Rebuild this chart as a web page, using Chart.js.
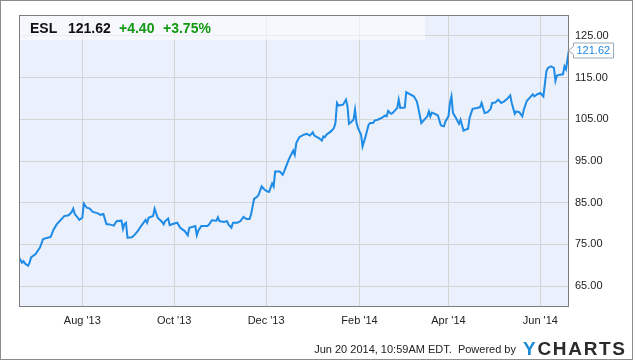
<!DOCTYPE html>
<html>
<head>
<meta charset="utf-8">
<title>ESL</title>
<script src="https://cdn.jsdelivr.net/npm/chart.js@4/dist/chart.umd.min.js"></script>
<style>
  html, body { margin: 0; padding: 0; background: #fff; }
  #wrap { position: relative; width: 635px; height: 362px; overflow: hidden;
          font-family: "Liberation Sans", Arial, sans-serif; }
  #chart { position: absolute; left: 0; top: 0; }
  #frame { position: absolute; left: 0; top: 0; width: 631px; height: 358px; border: 1px solid #8c8c8c; }
  .head { position: absolute; top: 20px; font-size: 14px; line-height: 16px; font-weight: bold; color: #111; white-space: nowrap; }
  .up { color: #119911; }
  #stamp { position: absolute; right: 119px; top: 342px; font-size: 11px; line-height: 14px; color: #222; white-space: nowrap; }
  #logo { position: absolute; left: 523px; top: 338px; font-size: 19px; line-height: 22px; font-weight: bold;
          letter-spacing: 1.7px; color: #2b2b2b; white-space: nowrap; }
  #logo b { color: #1b8bd6; }
</style>
</head>
<body>
<div id="wrap">
  <canvas id="chart" width="635" height="362"></canvas>
  <div id="frame"></div>
  <div class="head" style="left:30px">ESL</div>
  <div class="head" style="left:68px">121.62</div>
  <div class="head up" style="left:119px">+4.40</div>
  <div class="head up" style="left:163px">+3.75%</div>
  <div id="stamp">Jun 20 2014, 10:59AM EDT.&nbsp; Powered by</div>
  <div id="logo"><b>Y</b>CHARTS</div>
</div>
<script>
// Datos: dias desde el 20 jun 2013 y precio de cierre
const days = [0, 2, 3, 4, 6, 7, 8, 11, 14, 16, 19, 21, 23, 25, 27, 30, 33, 35, 36, 37,
  39, 40, 42, 43, 45, 47, 49, 52, 54, 56, 58, 60, 63, 64, 65, 68, 69, 70, 71, 72,
  75, 77, 79, 81, 84, 85, 86, 89, 90, 92, 95, 96, 97, 99, 100, 102, 105, 107, 110, 112,
  113, 117, 118, 119, 121, 125, 126, 128, 131, 132, 133, 136, 138, 139, 141, 142, 145, 147, 149, 151,
  153, 154, 156, 158, 159, 161, 163, 165, 166, 168, 169, 170, 172, 173, 175, 176, 179, 180, 181, 182,
  183, 184, 186, 189, 191, 193, 195, 196, 199, 201, 202, 203, 204, 207, 209, 210, 211, 212, 215, 217,
  218, 219, 221, 222, 223, 224, 225, 227, 228, 230, 232, 233, 235, 236, 238, 241, 243, 244, 245, 247,
  248, 250, 251, 252, 253, 256, 257, 259, 262, 264, 265, 267, 269, 271, 272, 273, 274, 276, 278, 280,
  282, 283, 285, 286, 287, 288, 290, 292, 293, 295, 297, 298, 299, 301, 304, 306, 307, 309, 311, 313,
  314, 316, 318, 320, 322, 324, 326, 327, 329, 330, 332, 334, 335, 337, 339, 341, 342, 344, 346, 348,
  350, 351, 353, 355, 356, 357, 359, 361, 362, 363, 365];
const prices = [71.9, 70.6, 71.0, 70.4, 69.9, 70.6, 71.9, 72.7, 74.3, 76.3, 76.6, 76.8, 78.6, 79.8, 80.6, 81.8, 82.0, 82.8, 83.6, 82.3,
  81.4, 80.9, 81.4, 84.8, 83.8, 83.6, 82.8, 82.5, 82.1, 82.3, 79.9, 79.8, 79.5, 80.2, 80.6, 80.7, 78.7, 79.9, 80.2, 76.6,
  76.7, 77.4, 78.3, 79.4, 80.9, 80.2, 81.4, 81.8, 83.6, 81.4, 80.4, 79.8, 80.6, 81.2, 79.6, 79.9, 80.2, 79.0, 78.2, 77.2,
  79.0, 79.4, 77.2, 78.3, 79.4, 79.4, 79.7, 80.8, 80.7, 81.5, 80.6, 80.4, 80.6, 79.8, 79.0, 80.2, 80.2, 80.6, 81.6, 81.1,
  81.1, 82.2, 85.9, 86.4, 86.9, 88.9, 88.1, 87.7, 87.6, 89.6, 88.9, 92.5, 92.5, 92.5, 91.7, 92.5, 95.3, 96.1, 96.8, 97.5,
  96.5, 99.3, 100.7, 101.3, 101.5, 101.1, 101.9, 101.1, 100.5, 99.9, 100.9, 100.7, 101.3, 102.1, 102.9, 104.1, 108.9, 108.3, 108.5, 109.7,
  108.1, 103.9, 104.5, 104.9, 107.3, 104.1, 102.9, 101.3, 98.5, 100.9, 103.7, 104.1, 104.1, 104.7, 104.9, 105.4, 105.9, 105.7, 107.0, 106.3,
  106.5, 107.3, 107.7, 109.7, 107.7, 107.8, 111.5, 111.1, 110.5, 109.3, 107.7, 104.1, 104.9, 105.7, 106.9, 105.7, 106.6, 106.3, 105.9, 103.5,
  103.3, 104.5, 105.7, 108.9, 110.5, 106.5, 105.3, 103.9, 104.9, 102.3, 102.6, 102.7, 105.3, 107.5, 107.7, 107.9, 108.9, 106.5, 106.7, 107.5,
  108.9, 109.0, 109.7, 108.9, 109.3, 109.9, 110.7, 108.9, 106.3, 106.9, 106.7, 105.7, 107.3, 109.4, 110.2, 111.0, 110.5, 111.0, 111.3, 110.5,
  116.5, 117.3, 117.7, 117.3, 114.2, 115.5, 115.7, 115.8, 117.7, 117.0, 121.62];

// Marcas de los ejes
const monthDays = [42, 103, 164, 226, 285, 346];
const monthLabels = ["Aug '13", "Oct '13", "Dec '13", "Feb '14", "Apr '14", "Jun '14"];
const priceTicks = [65, 75, 85, 95, 105, 115, 125];

// Fondo del area del grafico, banda del titulo, marco y etiqueta del ultimo valor
const decor = {
  id: "decor",
  beforeDraw(chart) {
    const a = chart.chartArea, ctx = chart.ctx;
    ctx.save();
    ctx.fillStyle = "#eaf0fc";
    ctx.fillRect(a.left, a.top, a.right - a.left, a.bottom - a.top);
    ctx.restore();
  },
  beforeDatasetsDraw(chart) {
    const a = chart.chartArea, ctx = chart.ctx;
    ctx.save();
    ctx.fillStyle = "rgba(255,255,255,0.55)";
    ctx.fillRect(a.left, a.top, 406, 25);
    ctx.restore();
  },
  afterDraw(chart) {
    const a = chart.chartArea, ctx = chart.ctx;
    const y = chart.scales.y;
    ctx.save();
    ctx.strokeStyle = "#7d7d7d";
    ctx.lineWidth = 1;
    ctx.strokeRect(a.left + 0.5, a.top + 0.5, a.right - a.left - 1, a.bottom - a.top - 1);

    const last = prices[prices.length - 1];
    const py = Math.round(y.getPixelForValue(last)) + 0.5;
    const bx = a.right + 4.5, bw = 40, bh = 15;
    ctx.beginPath();
    ctx.moveTo(bx, py - bh / 2);
    ctx.lineTo(bx + bw, py - bh / 2);
    ctx.lineTo(bx + bw, py + bh / 2);
    ctx.lineTo(bx, py + bh / 2);
    ctx.lineTo(bx, py + 4);
    ctx.lineTo(bx - 5, py);
    ctx.lineTo(bx, py - 4);
    ctx.closePath();
    ctx.fillStyle = "#fff";
    ctx.fill();
    ctx.strokeStyle = "#9aa8b8";
    ctx.stroke();
    ctx.fillStyle = "#1e88e5";
    ctx.font = "11px 'Liberation Sans', Arial, sans-serif";
    ctx.textBaseline = "middle";
    ctx.fillText(last.toFixed(2), bx + 3, py + 0.5);
    ctx.restore();
  }
};

const ctx = document.getElementById("chart").getContext("2d");
new Chart(ctx, {
  type: "line",
  data: {
    datasets: [{
      data: days.map((d, i) => ({ x: d, y: prices[i] })),
      borderColor: "#1e8be6",
      borderWidth: 2,
      pointRadius: 0,
      tension: 0,
      fill: false
    }]
  },
  options: {
    responsive: false,
    animation: false,
    devicePixelRatio: 1,
    layout: { padding: { left: 19, top: 15, right: 0, bottom: 0 } },
    plugins: { legend: { display: false }, tooltip: { enabled: false } },
    scales: {
      x: {
        type: "linear",
        min: 0,
        max: 365,
        afterBuildTicks(axis) { axis.ticks = monthDays.map(v => ({ value: v })); },
        afterFit(axis) { axis.height = 55; },
        grid: { color: "#d4d4d4", drawTicks: false },
        border: { display: false },
        ticks: {
          padding: 7,
          color: "#222",
          font: { family: "'Liberation Sans', Arial, sans-serif", size: 11 },
          maxRotation: 0,
          autoSkip: false,
          callback: (v) => monthLabels[monthDays.indexOf(v)]
        }
      },
      y: {
        position: "right",
        min: 60,
        max: 130,
        afterBuildTicks(axis) { axis.ticks = priceTicks.map(v => ({ value: v })); },
        afterFit(axis) { axis.width = 66; },
        grid: { color: "#d4d4d4", drawTicks: false },
        border: { display: false },
        ticks: {
          padding: 6,
          color: "#222",
          font: { family: "'Liberation Sans', Arial, sans-serif", size: 11 },
          callback: (v) => v.toFixed(2)
        }
      }
    }
  },
  plugins: [decor]
});
</script>
</body>
</html>
